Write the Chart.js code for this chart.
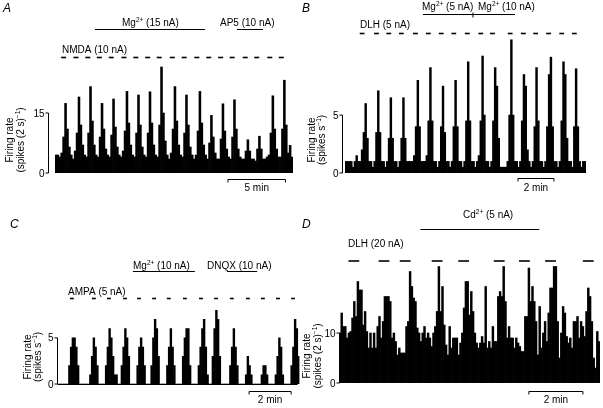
<!DOCTYPE html>
<html>
<head>
<meta charset="utf-8">
<script src="https://cdn.jsdelivr.net/npm/chart.js@4.4.1/dist/chart.umd.min.js"></script>
<style>
  html, body { margin: 0; padding: 0; background: #fff; }
  #wrap { position: relative; width: 603px; height: 408px; }
  #wrap canvas { position: absolute; left: 0; top: 0; }
</style>
</head>
<body>
<div id="wrap">
  <canvas id="chartA" width="603" height="408"></canvas>
  <canvas id="chartB" width="603" height="408"></canvas>
  <canvas id="chartC" width="603" height="408"></canvas>
  <canvas id="chartD" width="603" height="408"></canvas>
</div>
<script>
// ---- datos ----
// A: NMDA + Mg2+ / AP5, bins de 10 s, spikes (2 s)^-1
const binA = 10;
const rateA = [
  4.5, 4.5, 4, 5, 9, 17.4, 11, 6.5, 4.5, 3.5,
  5.5, 10, 19, 12, 7, 4.5, 4, 10, 21.6, 13,
  7, 4.5, 4, 9, 17.4, 11, 6, 4.5, 4, 9.5,
  18.5, 11.5, 6.5, 4.5, 4, 5.5, 10.5, 20.4, 12.5, 7,
  4.5, 4, 10, 19.5, 12, 6.5, 4.5, 4, 10, 20.3,
  12.5, 7, 4.5, 4, 12, 26.5, 15, 8, 4.5, 3.5,
  5, 11, 21.6, 13, 7, 4.5, 4, 10, 19.5, 12,
  6.5, 4.5, 3.5, 4.5, 10.5, 20.4, 12.5, 7, 4.5, 3.5,
  7.5, 14.4, 9, 5, 3.5, 3.5, 8.5, 17.3, 10.5, 6,
  4, 3.5, 9, 18.3, 11, 6, 4, 3.5, 3.5, 5.5,
  8.3, 5.5, 3.5, 3.5, 3, 6, 9.2, 6, 3.5, 3.5,
  4, 4.5, 10, 19.3, 11, 6, 4, 4, 11, 23.2,
  12, 5, 6.9, 4
];
const ticksA = [0, 15];
const nmdaA = [32, 96, 158, 218, 280, 346, 408, 470, 530, 598, 660, 726, 788, 850, 910, 978, 1038, 1106, 1166];
const mgA = [208, 782];
const ap5A = [948, 1084];

// B: DLH + Mg2+, bins de 6 s, spikes s^-1
const binB = 6;
const rateB = [
  1, 1, 1, 1, 0.5, 1, 1.5, 1, 1, 2,
  3.5, 6, 3, 1, 1, 0.5, 1, 3.5, 7.1, 3.5,
  1, 1, 0.5, 1, 3, 6.5, 3, 1, 1, 0.5,
  1, 3, 6.5, 3, 1, 1, 1, 1, 1.5, 4,
  8, 4, 1, 1, 1, 1.5, 4.5, 9.1, 4.5, 1,
  1, 0.5, 1, 4, 7.5, 3.5, 1, 1, 0.5, 1,
  4, 8, 4, 1, 1, 0.5, 1, 4.5, 9.6, 4.5,
  1, 1, 0.5, 1, 1.5, 4.5, 10.1, 5, 1, 1,
  0.5, 1, 4.5, 9.1, 7.5, 3, 0.5, 0.5, 0.5, 0.5,
  1, 5, 11.5, 5, 1, 1, 0.5, 1, 4.5, 8.5,
  7.5, 2, 1, 0.5, 1, 4, 9.1, 4.5, 1, 1,
  0.5, 1, 4, 8.5, 10, 4, 1, 1, 0.5, 1,
  4.5, 9.6, 8.5, 3, 1, 1, 0.5, 4, 9, 4,
  1, 0.5, 1, 1
];
const ticksB = [0, 5];
const dlhB = [49, 97, 138, 180, 227, 270, 313, 355, 400, 445, 484, 543, 587, 628, 671, 715, 757];
const mgB = [260, 427, 567];

// C: AMPA + Mg2+ / DNQX, bins de 5 s, spikes s^-1
const binC = 5;
const rateC = [
  0, 0, 0, 0, 0, 0, 2, 4, 5, 5, 4, 2, 0, 0, 0, 0, 0, 0,
  1, 3, 5, 4, 2, 0, 0, 0, 0, 2, 4, 6, 5, 3, 1, 1, 0, 0,
  2, 4, 6, 5, 3, 0, 0, 0, 0, 2, 4, 5, 4, 2, 0, 0, 0,
  2, 5, 7, 6, 3, 0, 0, 0, 0, 2, 4, 6, 4, 2, 0, 0, 0, 0,
  3, 5, 6, 6, 2, 0, 0, 0, 0, 2, 4, 6, 7, 4, 1, 0, 0,
  3, 6, 8, 7, 3, 0, 0, 0, 0, 0, 2, 4, 6, 4, 2, 0, 0, 0, 0,
  1, 3, 2, 1, 0, 0, 0, 0, 0, 1, 2, 2, 1, 0, 0, 0, 0,
  1, 3, 5, 4, 1, 0, 0, 0, 0, 2, 4, 7, 6, 3
];
const ticksC = [0, 5];
const ampaC = [34, 97, 140, 186, 226, 269, 311, 357, 403, 446, 491, 537, 580, 623, 666];
const mgC = [214, 391];
const dnqxC = [483, 569];

// D: DLH + Cd2+, bins de 4 s, spikes (2 s)^-1
const binD = 4;
const rateD = [
  10, 14, 11.3, 11.3, 9, 10, 10.3, 13, 16.3, 13.3,
  20.3, 18.6, 18.6, 11.6, 14.3, 10.3, 7, 10, 7, 10,
  7, 11.3, 13.3, 9, 12.3, 17.3, 17.3, 17.3, 16.3, 9,
  10, 8.3, 5.6, 7, 6, 6, 6, 11.3, 12.3, 22.3,
  19.3, 17, 16.3, 11, 10, 8.3, 10, 11.3, 9, 10,
  9, 7.3, 10, 11.3, 14.3, 23.3, 14.3, 19.3, 11.6, 7.6,
  5.6, 11.3, 7, 9, 9, 9, 5.6, 8, 10, 15,
  20.3, 20.3, 13.6, 18.3, 14.3, 10, 8, 7, 8, 9.3,
  8, 19.3, 7, 8.3, 7, 11.3, 8.3, 8.3, 17.3, 18.3,
  17.3, 23.3, 16.3, 9, 11.3, 9, 9, 7, 9, 8,
  7.3, 6.3, 6.3, 13.3, 13.3, 23, 16.3, 19.3, 16.3, 12.3,
  5.6, 15.3, 7, 10, 12.3, 8.3, 14, 19, 19, 23.3,
  23.3, 12.3, 5, 10, 15.3, 14, 9.3, 8, 9, 7,
  12.3, 12.3, 13.3, 9, 12.3, 11.3, 9.3, 14.3, 19, 17.3,
  12.3, 5, 3, 10.3, 8.3
];
const ticksD = [0, 10];
const dlhD = [21, 88, 135, 206, 265, 344, 400, 458, 542];
const cdD = [181, 445];

// ---- dibujo ----
const FONT = '"Liberation Sans", Arial, Helvetica, sans-serif';

// texto con superíndices: 'Mg^{2+}'
function drawRich(ctx, str, x, y, size, align) {
  const parts = str.split(/\^\{([^}]*)\}/);
  let w = 0;
  parts.forEach((p, i) => {
    ctx.font = (i % 2 ? size * 0.65 : size) + 'px ' + FONT;
    w += ctx.measureText(p).width;
  });
  let cx = align === 'center' ? x - w / 2 : (align === 'right' ? x - w : x);
  ctx.textAlign = 'left';
  ctx.textBaseline = 'alphabetic';
  parts.forEach((p, i) => {
    ctx.font = (i % 2 ? size * 0.65 : size) + 'px ' + FONT;
    ctx.fillText(p, cx, i % 2 ? y - size * 0.38 : y);
    cx += ctx.measureText(p).width;
  });
}

function seg(ctx, x0, y0, x1, y1, lw) {
  ctx.lineWidth = lw || 1;
  ctx.beginPath();
  ctx.moveTo(x0, y0);
  ctx.lineTo(x1, y1);
  ctx.stroke();
}

const panelDecor = {
  id: 'panelDecor',
  afterDraw(chart, args, o) {
    const ctx = chart.ctx;
    const xs = chart.scales.x, ys = chart.scales.y;
    const px = t => xs.getPixelForValue(t / o.bin - 0.5);
    ctx.save();
    ctx.fillStyle = '#000';
    ctx.strokeStyle = '#000';

    // letra del panel
    ctx.font = 'italic 12px ' + FONT;
    ctx.textAlign = 'left';
    ctx.textBaseline = 'alphabetic';
    ctx.fillText(o.letter[0], o.letter[1], o.letter[2]);

    // eje y
    const a = o.axis;
    const y0 = ys.getPixelForValue(0);
    const yTop = ys.getPixelForValue(a.ticks[a.ticks.length - 1]);
    seg(ctx, a.x, y0, a.x, yTop, 1);
    a.ticks.forEach(v => {
      const y = ys.getPixelForValue(v);
      seg(ctx, a.x - 3, y, a.x, y, 1);
      drawRich(ctx, String(v), a.x - 4, y + 3.5, 10, 'right');
    });
    a.title.forEach((s, i) => {
      ctx.save();
      ctx.translate(a.titleX[i], a.titleY);
      ctx.rotate(-Math.PI / 2);
      drawRich(ctx, s, 0, 3.5, 10, 'center');
      ctx.restore();
    });
    if (o.baseline) seg(ctx, a.x, y0 + 0.5, chart.chartArea.right - 2, y0 + 0.5, 1);

    // barras de aplicación de fármacos
    o.drugs.forEach(d => {
      seg(ctx, px(d.t[0]), d.y, px(d.t[d.t.length - 1]), d.y, 1);
      if (d.t.length > 2) seg(ctx, px(d.t[1]), d.y - 2, px(d.t[1]), d.y + 3, 1);
    });

    // pulsos del agonista
    o.pulses.t.forEach(t => seg(ctx, px(t), o.pulses.y, px(t + o.pulses.dur), o.pulses.y, 1.6));

    // barra de escala
    const s = o.scale;
    const s0 = px(s.t0), s1 = px(s.t0 + s.len);
    ctx.lineWidth = 1;
    ctx.beginPath();
    ctx.moveTo(s0, s.y + 3);
    ctx.lineTo(s0, s.y);
    ctx.lineTo(s1, s.y);
    ctx.lineTo(s1, s.y + 3);
    ctx.stroke();
    drawRich(ctx, s.label, (s0 + s1) / 2, s.labelY, 10, 'center');

    // rótulos
    o.texts.forEach(t => drawRich(ctx, t[0], t[1], t[2], 10, 'left'));
    ctx.restore();
  }
};

function makeChart(id, rates, bin, yMax, area, decor) {
  decor.bin = bin;
  return new Chart(document.getElementById(id), {
    type: 'bar',
    data: {
      labels: rates.map((_, i) => i * bin),
      datasets: [{
        data: rates,
        backgroundColor: '#000',
        borderWidth: 0,
        barPercentage: 1,
        categoryPercentage: 1
      }]
    },
    options: {
      responsive: false,
      animation: false,
      events: [],
      layout: { padding: { left: area[0], top: area[1], right: 603 - area[2], bottom: 408 - area[3] } },
      scales: {
        x: { display: false },
        y: { display: false, min: 0, max: yMax }
      },
      plugins: {
        legend: { display: false },
        tooltip: { enabled: false },
        panelDecor: decor
      }
    },
    plugins: [panelDecor]
  });
}

makeChart('chartA', rateA, binA, 28, [55, 61, 293, 173], {
  letter: ['A', 3, 12],
  axis: { x: 48.5, ticks: ticksA, title: ['Firing rate', '(spikes (2 s)^{−1})'], titleX: [9, 20], titleY: 140 },
  baseline: false,
  drugs: [{ t: mgA, y: 29.5 }, { t: ap5A, y: 29.5 }],
  pulses: { t: nmdaA, dur: 26, y: 57.5 },
  scale: { t0: 901, len: 300, y: 179.5, label: '5 min', labelY: 191 },
  texts: [['Mg^{2+} (15 nA)', 122, 26], ['AP5 (10 nA)', 220, 26], ['NMDA (10 nA)', 62, 53]]
});

makeChart('chartB', rateB, binB, 12, [345, 34, 586, 173], {
  letter: ['B', 302, 12],
  axis: { x: 342.5, ticks: ticksB, title: ['Firing rate', '(spikes s^{−1})'], titleX: [311, 321], titleY: 140 },
  baseline: false,
  drugs: [{ t: mgB, y: 14.5 }],
  pulses: { t: dlhB, dur: 16, y: 33.5 },
  scale: { t0: 577, len: 120, y: 178.5, label: '2 min', labelY: 191 },
  texts: [['Mg^{2+} (5 nA)', 422, 10], ['Mg^{2+} (10 nA)', 478, 10], ['DLH (5 nA)', 360, 28]]
});

makeChart('chartC', rateC, binC, 9, [58, 301, 299.5, 384], {
  letter: ['C', 10, 228],
  axis: { x: 57.5, ticks: ticksC, title: ['Firing rate', '(spikes s^{−1})'], titleX: [27, 37.5], titleY: 357 },
  baseline: true,
  drugs: [{ t: mgC, y: 271.5 }, { t: dnqxC, y: 271.5 }],
  pulses: { t: ampaC, dur: 11, y: 298.5 },
  scale: { t0: 546, len: 120, y: 391.5, label: '2 min', labelY: 403 },
  texts: [['Mg^{2+} (10 nA)', 133, 269], ['DNQX (10 nA)', 207, 269], ['AMPA (5 nA)', 68, 295]]
});

makeChart('chartD', rateD, binD, 24, [339, 263, 600, 383], {
  letter: ['D', 302, 228],
  axis: { x: 339.5, ticks: ticksD, title: ['Firing rate', '(spikes (2 s)^{−1})'], titleX: [306, 317], titleY: 356 },
  baseline: false,
  drugs: [{ t: cdD, y: 229.5 }],
  pulses: { t: dlhD, dur: 24, y: 261 },
  scale: { t0: 422, len: 120, y: 391.5, label: '2 min', labelY: 403 },
  texts: [['Cd^{2+} (5 nA)', 463, 218], ['DLH (20 nA)', 348, 247]]
});
</script>
</body>
</html>
